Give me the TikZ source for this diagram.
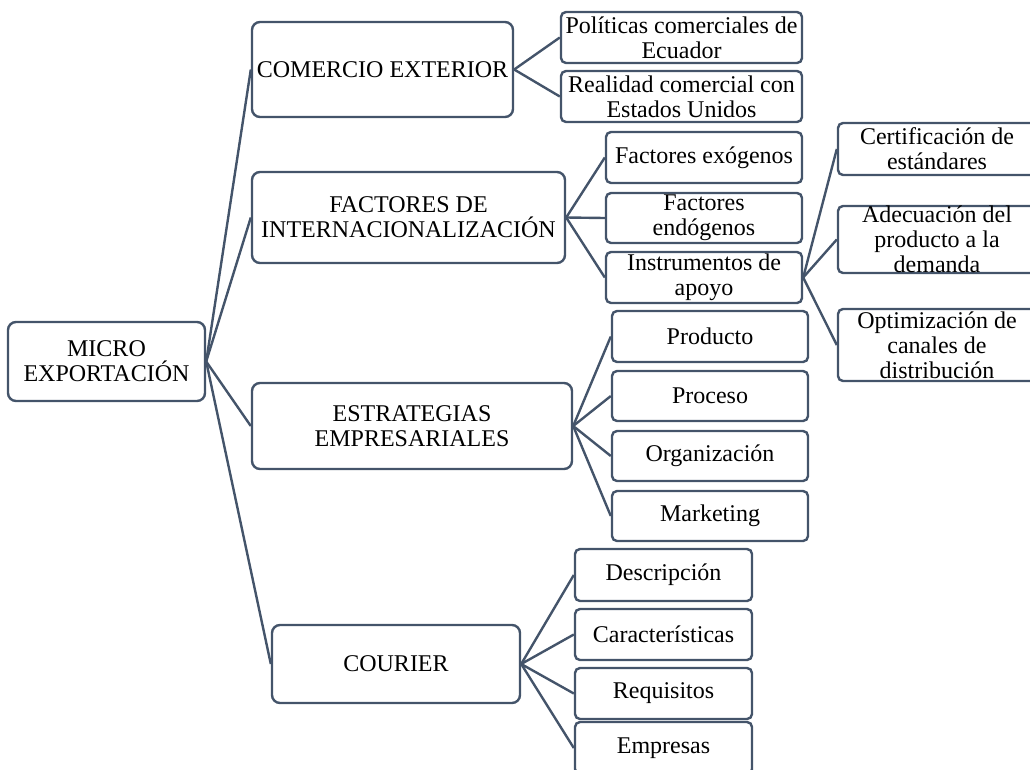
\documentclass[tikz,border=0pt]{standalone}
\usepackage{fontspec}
\setmainfont{Liberation Serif}
\definecolor{slate}{HTML}{44546A}
\begin{document}
\begin{tikzpicture}[x=1pt,y=-1pt,
  box/.style={draw=slate, line width=2.4pt, fill=white, rounded corners=5pt,
    inner sep=0pt, align=center, font=\fontsize{24}{25}\selectfont},
  bigbox/.style={box, rounded corners=8pt},
  link/.style={draw=slate, line width=2.4pt}]
\useasboundingbox (0,0) rectangle (1030,769);
\clip (0,0) rectangle (1030,769);

% root and first level
\node[bigbox, minimum width=197pt, minimum height=79pt] (micro) at (106.5,361.5) {MICRO\\EXPORTACIÓN};
\node[bigbox, minimum width=261pt, minimum height=95pt] (comercio) at (382.5,69.5) {COMERCIO EXTERIOR};
\node[bigbox, minimum width=313pt, minimum height=91pt] (factores) at (408.5,217.5) {FACTORES DE\\INTERNACIONALIZACIÓN};
\node[bigbox, minimum width=320pt, minimum height=86pt] (estrategias) at (412,426) {ESTRATEGIAS\\EMPRESARIALES};
\node[bigbox, minimum width=248pt, minimum height=78pt] (courier) at (396,664) {COURIER};

% comercio exterior
\node[box, minimum width=241pt, minimum height=51pt] (politicas) at (681.5,37.5) {Políticas comerciales de\\Ecuador};
\node[box, minimum width=241pt, minimum height=51pt] (realidad) at (681.5,96.5) {Realidad comercial con\\Estados Unidos};

% factores de internacionalizacion
\node[box, minimum width=196pt, minimum height=51pt] (exogenos) at (704,157.5) {Factores exógenos};
\node[box, minimum width=196pt, minimum height=50pt] (endogenos) at (704,218) {Factores\\endógenos};
\node[box, minimum width=196pt, minimum height=51pt] (instrumentos) at (704,277.5) {Instrumentos de\\apoyo};

% instrumentos de apoyo
\node[box, minimum width=198pt, minimum height=52pt] (certificacion) at (937,149) {Certificación de\\estándares};
\node[box, minimum width=198pt, minimum height=67pt] (adecuacion) at (937,239.5) {Adecuación del\\producto a la\\demanda};
\node[box, minimum width=198pt, minimum height=72pt] (optimizacion) at (937,345) {Optimización de\\canales de\\distribución};

% estrategias empresariales
\node[box, minimum width=196pt, minimum height=51pt] (producto) at (710,336.5) {Producto};
\node[box, minimum width=196pt, minimum height=50pt] (proceso) at (710,396) {Proceso};
\node[box, minimum width=196pt, minimum height=50pt] (organizacion) at (710,456) {Organización};
\node[box, minimum width=196pt, minimum height=50pt] (marketing) at (710,516) {Marketing};

% courier
\node[box, minimum width=177pt, minimum height=52pt] (descripcion) at (663.5,575) {Descripción};
\node[box, minimum width=177pt, minimum height=51pt] (caracteristicas) at (663.5,634.5) {Características};
\node[box, minimum width=177pt, minimum height=51pt] (requisitos) at (663.5,693.5) {Requisitos};
\node[box, minimum width=177pt, minimum height=52pt] (empresas) at (663.5,748) {Empresas};

% connectors
\foreach \c in {comercio,factores,estrategias,courier}
  \draw[link] (micro.east) -- (\c.west);
\foreach \c in {politicas,realidad}
  \draw[link] (comercio.east) -- (\c.west);
\foreach \c in {exogenos,endogenos,instrumentos}
  \draw[link] (factores.east) -- (\c.west);
\foreach \c in {certificacion,adecuacion,optimizacion}
  \draw[link] (instrumentos.east) -- (\c.west);
\foreach \c in {producto,proceso,organizacion,marketing}
  \draw[link] (estrategias.east) -- (\c.west);
\foreach \c in {descripcion,caracteristicas,requisitos,empresas}
  \draw[link] (courier.east) -- (\c.west);
\end{tikzpicture}
\end{document}
